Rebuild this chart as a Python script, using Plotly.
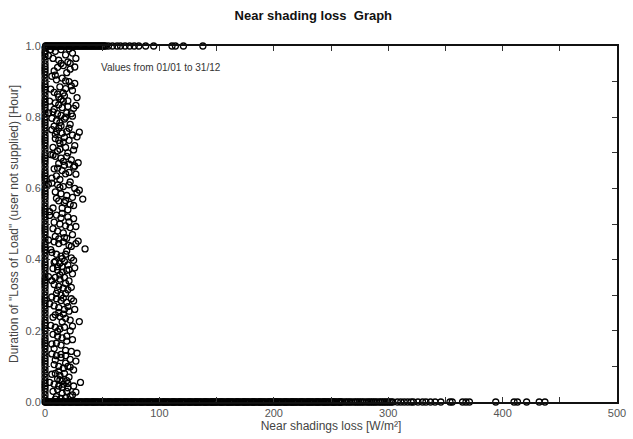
import plotly.graph_objects as go

# ---- data ----
cloud_x = [
    5, 9, 14, 18, 24, 7, 12, 20, 27, 11, 16, 22, 8, 19,
    6, 10, 15, 21, 26, 13, 18, 8, 24, 11, 17, 28, 14,
    4, 9, 12, 16, 20, 25, 7, 11, 14, 18, 23, 10, 13, 17, 22, 8, 12,
    6, 10, 15, 19, 24, 28, 9, 12, 16, 21, 26, 7, 13, 18, 11, 20,
    5, 9, 14, 19, 23, 12, 17, 25, 8, 15, 21, 10, 27, 13,
    6, 11, 16, 21, 26, 30, 9, 14, 19, 24, 12, 17, 22, 33, 7, 15, 20,
    4, 10, 15, 20, 25, 8, 13, 18, 22, 11, 16, 24, 9, 19,
    3, 8, 12, 16, 21, 27, 35, 6, 10, 14, 18, 23, 9, 13, 17, 20, 11, 15,
    7, 11, 15, 19, 24, 9, 13, 17, 21, 8, 12, 16, 20, 10, 14, 18,
    6, 10, 14, 19, 23, 8, 12, 17, 21, 26, 9, 13, 18, 15, 22,
    5, 9, 13, 17, 22, 7, 11, 15, 19, 24, 10, 14, 8, 18,
    6, 10, 14, 18, 22, 27, 8, 12, 16, 20, 25, 9, 13, 17, 21, 11, 15, 19,
    4, 8, 12, 16, 20, 25, 31, 7, 11, 15, 19, 24, 10, 14, 22,
    3, 21, 14, 26, 9, 18, 23, 5, 16, 12, 20, 27, 8, 15, 19, 6, 24, 14, 21, 9,
    17, 13, 25, 7, 16, 21, 11, 29, 18, 6, 22, 13, 28, 10, 18, 25, 4, 14, 21, 27,
    7, 17, 12, 23, 5, 19, 15, 25, 8, 21, 13, 6, 18, 23, 11, 16, 25, 4, 20, 12,
    7, 16, 24, 11, 19, 6, 14, 23, 9, 18, 12, 20, 6, 15, 27, 9, 18, 13, 22, 28,
    3, 3, 3, 26, 29, 30, 26, 30, 22, 10, 25,
]
cloud_y = [
    .99, .985, .99, .975, .98, .965, .96, .955, .965, .94, .945, .935, .93, .925,
    .915, .905, .91, .9, .895, .885, .88, .87, .875, .865, .86, .855, .85,
    .845, .84, .835, .845, .83, .825, .815, .81, .805, .8, .81, .79, .785, .795, .78, .775, .77,
    .765, .76, .755, .76, .75, .745, .74, .735, .73, .735, .72, .715, .71, .715, .705, .7,
    .695, .69, .685, .69, .68, .67, .665, .66, .655, .65, .645, .635, .64, .625,
    .615, .61, .605, .61, .6, .595, .59, .585, .58, .575, .565, .56, .555, .57, .545, .545, .54,
    .535, .525, .53, .52, .515, .505, .5, .495, .49, .48, .475, .47, .465, .46,
    .455, .45, .445, .45, .44, .445, .43, .42, .415, .41, .415, .405, .395, .39, .395, .385, .38, .38,
    .375, .37, .365, .37, .36, .35, .345, .35, .34, .33, .325, .32, .315, .305, .3, .305,
    .295, .29, .285, .28, .29, .27, .265, .26, .255, .26, .245, .24, .235, .225, .23,
    .215, .21, .205, .21, .2, .19, .185, .18, .185, .175, .165, .16, .15, .145,
    .135, .13, .125, .13, .12, .115, .105, .1, .095, .1, .09, .08, .075, .08, .07, .065, .06, .06,
    .055, .05, .045, .05, .04, .045, .055, .03, .035, .025, .03, .02, .015, .01, .015,
    .973, .992, .951, .941, .918, .902, .888, .879, .868, .857, .846, .833, .822, .827, .812, .797, .803, .776, .769, .752,
    .743, .727, .708, .694, .676, .668, .657, .672, .641, .629, .618, .603, .588, .572, .566, .552, .524, .517, .506, .493,
    .487, .462, .458, .437, .428, .424, .403, .398, .392, .372, .357, .341, .333, .322, .314, .292, .284, .276, .268, .252,
    .238, .247, .213, .198, .171, .163, .134, .142, .118, .109, .087, .052, .078, .041, .028, .008, .012, .062, .098, .137,
    .352, .612, .812, .377, .452, .226, .663, .758, .951, .998, .999,
]

# points lying on x = 0 (loss of load with no near-shading loss)
column_y = [
    0.0, 0.01, 0.02, 0.03, 0.038, 0.045, 0.052, 0.06, 0.07, 0.08, 0.09, 0.1,
    0.108, 0.115, 0.122, 0.13, 0.14, 0.15, 0.158, 0.165, 0.172, 0.18, 0.19, 0.2,
    0.207, 0.215, 0.222, 0.23, 0.24, 0.25, 0.26, 0.27, 0.278, 0.285, 0.292, 0.3,
    0.31, 0.32, 0.328, 0.335, 0.342, 0.35, 0.36, 0.37, 0.378, 0.385, 0.392, 0.4,
    0.41, 0.42, 0.428, 0.435, 0.442, 0.45, 0.46, 0.47, 0.478, 0.485, 0.492, 0.5,
    0.51, 0.52, 0.528, 0.535, 0.542, 0.55, 0.56, 0.57, 0.578, 0.585, 0.592, 0.6,
    0.61, 0.62, 0.628, 0.635, 0.642, 0.65, 0.66, 0.67, 0.678, 0.685, 0.692, 0.7,
    0.71, 0.72, 0.728, 0.735, 0.742, 0.75, 0.76, 0.77, 0.778, 0.785, 0.792, 0.8,
    0.81, 0.82, 0.828, 0.835, 0.842, 0.85, 0.86, 0.87, 0.878, 0.885, 0.892, 0.9,
    0.91, 0.92, 0.928, 0.935, 0.942, 0.95, 0.96, 0.97, 0.978, 0.985, 0.995,
]

# points lying on y = 0 (no loss of load)
bottom_x = [
    0.5, 1, 2, 3, 4, 5, 6, 7, 8.5, 9.5, 10, 11, 12, 13, 14.5, 15.5, 16, 17, 18, 19,
    20.5, 21.5, 22, 23, 24, 25, 26.5, 27.5, 28, 29, 30, 31, 32, 33, 34.5, 35.5,
    36, 37, 38, 39, 40.5, 41.5, 42, 43, 44, 45, 46, 47, 48.5, 49.5, 50, 51, 52, 53,
    54.5, 55.5, 56, 57, 58, 59, 60.5, 61.5, 62, 63, 64, 65, 66, 67, 68.5, 69.5,
    70, 71, 72, 73, 74.5, 75.5, 76, 77, 78, 79, 80, 81, 82.5, 83.5, 84, 85, 86, 87,
    88.5, 89.5, 90, 91, 92, 93, 94, 95, 96.5, 97.5, 98, 99, 100, 101,
    102.5, 103.5, 104, 105, 106, 107, 108, 109, 110.5, 111.5, 112, 113, 114, 115,
    116.5, 117.5, 118, 119, 120, 121, 122, 123, 124.5, 125.5, 126, 127, 128, 129,
    130.5, 131.5, 132, 133, 134, 135, 136, 137, 138.5, 139.5, 140, 141, 142, 143,
    144.5, 145.5, 146, 147, 148, 149, 150, 151, 152.5, 153.5, 154, 155, 156, 157,
    158.5, 159.5, 160, 161, 162, 163, 164, 165, 166.5, 167.5, 168, 169, 170, 171,
    172.5, 173.5, 174, 175, 176, 177, 178, 179, 180.5, 181.5, 182, 183, 184, 185,
    186.5, 187.5, 188, 189, 190, 191, 192, 193, 194.5, 195.5, 196, 197, 198, 199,
    200.5, 201.5, 202, 203, 204, 205, 206, 207, 208.5, 209.5, 210, 211, 212, 213,
    214.5, 215.5, 216, 217, 218, 219, 220, 221, 222.5, 223.5, 224, 225, 226, 227,
    228.5, 229.5, 230, 231, 232, 233, 234, 235, 236.5, 237.5, 238, 239, 240, 241,
    242.5, 243.5, 244, 245, 246, 247, 248, 249, 250.5, 251.5, 252, 253, 254, 255,
    256.5, 257.5, 258, 259, 260, 262, 263.5, 265, 266.5, 268, 270, 271.5, 273,
    274.5, 276, 277.5, 279, 281, 282.5, 284, 285.5, 287, 288.5, 290, 292, 293.5,
    295, 296.5, 298, 299.5, 301, 302.5, 304, 308, 311, 314, 317, 320, 322, 326,
    330, 333, 337, 341, 346, 354, 356, 365, 368, 371, 394, 410, 413, 421, 432, 437,
]

# points lying on y = 1 (full hour of loss of load)
top_x = [
    0.5, 1, 2, 3, 4, 5, 6, 7, 8, 9, 10, 11, 12, 13, 14, 15, 16, 17, 18, 19, 20,
    21, 22, 23, 24, 25, 26, 27, 28, 29, 30, 31, 32, 33, 34, 35, 36, 37, 38, 39,
    40, 41, 42, 43, 44, 45, 46, 47, 48, 49, 50, 51, 52, 53, 55.5, 59, 63, 66,
    70, 74, 78, 82, 88, 95, 111, 114, 121, 138,
]

x_ticks = [0, 50, 100, 150, 200, 250, 300, 350, 400, 450, 500]
x_labels = ["0", "", "100", "", "200", "", "300", "", "400", "", "500"]
y_ticks = [0, 0.1, 0.2, 0.3, 0.4, 0.5, 0.6, 0.7, 0.8, 0.9, 1.0]
y_labels = ["0.0", "", "0.2", "", "0.4", "", "0.6", "", "0.8", "", "1.0"]

all_x = cloud_x + [0] * len(column_y) + bottom_x + top_x
all_y = cloud_y + column_y + [0] * len(bottom_x) + [1] * len(top_x)

FONT = "Liberation Sans, Arial, sans-serif"

fig = go.Figure()
fig.add_trace(go.Scatter(
    x=all_x, y=all_y, mode="markers", cliponaxis=False,
    marker=dict(symbol="circle-open", size=6, color="black",
                line=dict(width=1.3, color="black")),
    showlegend=False,
))

axis_font = dict(family=FONT, size=11, color="#555555")

fig.update_layout(
    width=633, height=439,
    margin=dict(l=45, r=7, t=46, b=37),
    paper_bgcolor="white", plot_bgcolor="white",
    title=dict(text="<b>Near shading loss  Graph</b>", x=0.495, xanchor="center",
               y=0.965, yanchor="middle",
               font=dict(family=FONT, size=13, color="#111111")),
    xaxis=dict(range=[0, 500], tickvals=x_ticks, ticktext=x_labels,
               ticks="inside", ticklen=5, tickwidth=1, tickcolor="#333333",
               showline=True, linecolor="#111111", linewidth=2, mirror="allticks",
               showgrid=False, zeroline=False, tickfont=axis_font,
               ticklabeloverflow="allow",
               title=dict(text="Near shadings loss [W/m²]", standoff=2,
                          font=dict(family=FONT, size=12, color="#444444"))),
    yaxis=dict(range=[0, 1], tickvals=y_ticks, ticktext=y_labels,
               ticks="inside", ticklen=5, tickwidth=1, tickcolor="#333333",
               showline=True, linecolor="#111111", linewidth=2, mirror="allticks",
               showgrid=False, zeroline=False, tickfont=axis_font,
               title=dict(text='Duration of "Loss of Load" (user not supplied) [Hour]', standoff=4,
                          font=dict(family=FONT, size=12, color="#444444"))),
    annotations=[dict(text="Values from 01/01 to 31/12", xref="paper", yref="paper",
                      x=0.094, y=0.94, xanchor="left", yanchor="middle", showarrow=False,
                      font=dict(family=FONT, size=10, color="#333333"))],
)

fig.write_html("out.html", config={"displayModeBar": False},
               post_script="document.body.style.margin='0px';")
